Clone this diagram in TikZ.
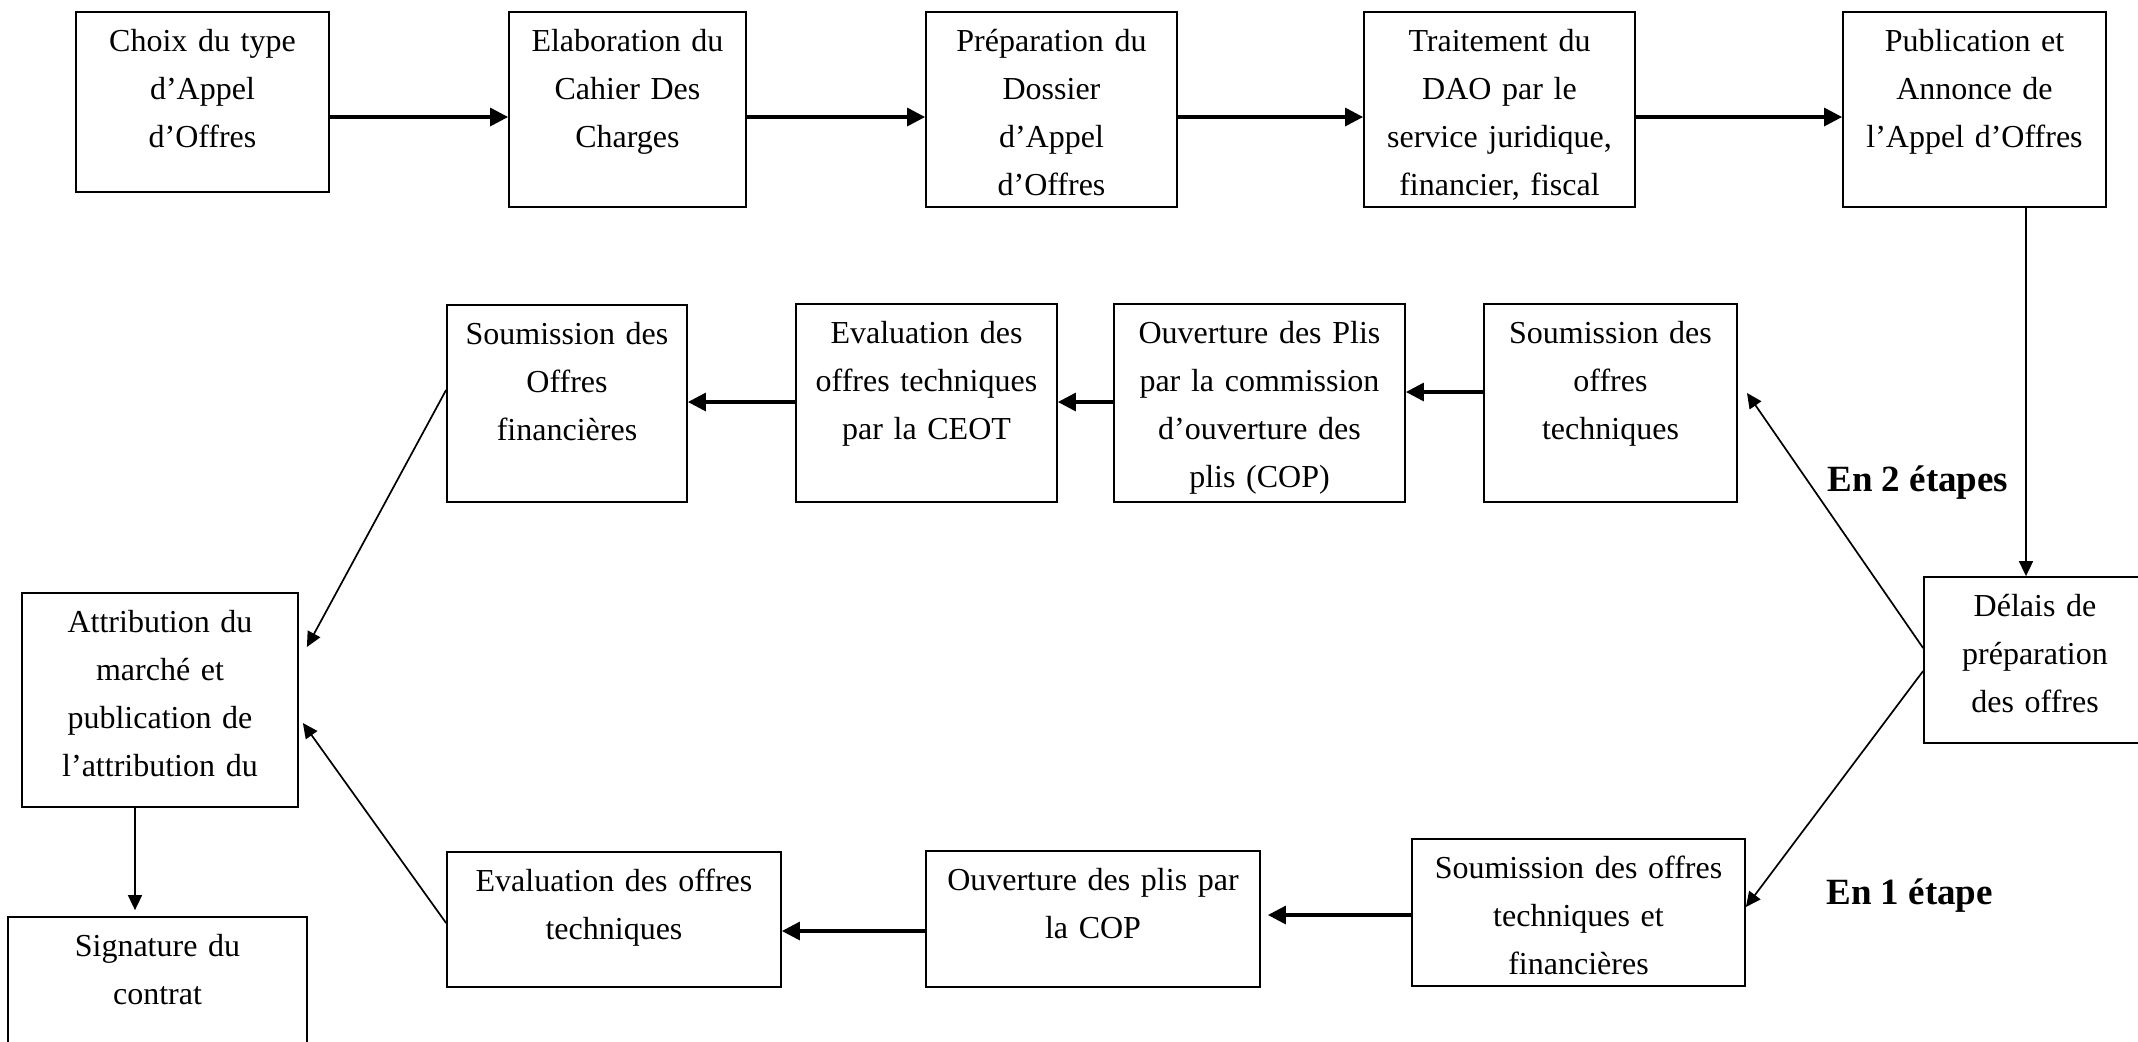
\documentclass[tikz,border=0pt]{standalone}
\usepackage{fontspec}
\setmainfont{Liberation Serif}
\usetikzlibrary{arrows.meta}

\tikzset{
  box/.style={draw, line width=0.9pt, inner sep=0pt},
  txt/.style={anchor=base, align=center, inner sep=0pt,
              font=\fontsize{16pt}{24pt}\selectfont},
  flow/.style={line width=1.6pt, -{Triangle[length=9pt,width=9pt]}},
  link/.style={line width=0.85pt, -{Triangle[length=7.5pt,width=7pt]}},
  tag/.style={anchor=base west, inner sep=0pt,
              font=\fontsize{18.5pt}{22pt}\selectfont\bfseries},
}

% #1 name, #2 #3 centre, #4 width (pt), #5 height (pt), #6 text
\newcommand\stage[6]{%
  \node[box, minimum width=#4pt, minimum height=#5pt] (#1) at (#2,#3) {};
  \path (#1.north) ++(0,40) node[txt, text width=#4pt] (#1-t) {#6};
}

\begin{document}
\begin{tikzpicture}[x=0.5pt, y=-0.5pt]
\useasboundingbox (0,0) rectangle (2138,1041);
\clip (0,0) rectangle (2138,1041);
\fill[white] (0,0) rectangle (2138,1041);

% first row: preparation of the call for tenders
\stage{b1}{202.5}{102}{126.5}{90}{Choix du type\\d’Appel\\d’Offres}
\stage{b2}{627.5}{109.5}{118.5}{97.5}{Elaboration du\\Cahier Des\\Charges}
\stage{b3}{1051.5}{109.5}{125.5}{97.5}{Préparation du\\Dossier\\d’Appel\\d’Offres}
\stage{b4}{1499.5}{109.5}{135.5}{97.5}{Traitement du\\DAO par le\\service juridique,\\financier, fiscal}
\stage{b5}{1974.5}{109.5}{131.5}{97.5}{Publication et\\Annonce de\\l’Appel d’Offres}

% bidding period
\stage{delais}{2035}{660}{111}{83}{Délais de\\préparation\\des offres}

% two-step procedure
\stage{s2t}{1610.5}{403}{126.5}{99}{Soumission des\\offres\\techniques}
\stage{ouv}{1259.5}{403}{145.5}{99}{Ouverture des Plis\\par la commission\\d’ouverture des\\plis (COP)}
\stage{evc}{926.5}{403}{130.5}{99}{Evaluation des\\offres techniques\\par la CEOT}
\stage{s2f}{567}{403.5}{120}{98.5}{Soumission des\\Offres\\financières}

% one-step procedure
\stage{s1}{1578.5}{912.5}{166.5}{73.5}{Soumission des offres\\techniques et\\financières}
\stage{ouc}{1093}{919}{167}{68}{Ouverture des plis par\\la COP}
\stage{evt}{614}{919.5}{167}{67.5}{Evaluation des offres\\techniques}

% award and contract
\stage{attr}{160}{700}{138}{107}{Attribution du\\marché et\\publication de\\l’attribution du}
\stage{sig}{157.5}{988.5}{149.5}{71.5}{Signature du\\contrat}

% branch labels
\node[tag] (two) at (1827,491) {En 2 étapes};
\node[tag] (one) at (1826,904) {En 1 étape};

% helper levels for connectors
\coordinate (r1) at (0,117);
\coordinate (r2a) at (0,392);
\coordinate (r2b) at (0,402);
\coordinate (r3a) at (0,915);
\coordinate (r3b) at (0,931);
\coordinate (vx) at (2026,0);
\coordinate (ax) at (135,0);
\coordinate (d2) at (0,648);
\coordinate (d1) at (0,671);
\coordinate (tip2) at (1747,393);
\coordinate (tip1) at (0,907);
\coordinate (e1) at (0,923);
\coordinate (e2) at (0,723);
\coordinate (f1) at (0,390);
\coordinate (f2) at (0,647);

% first row
\draw[flow] (b1.east |- r1) -- (b2.west |- r1);
\draw[flow] (b2.east |- r1) -- (b3.west |- r1);
\draw[flow] (b3.east |- r1) -- (b4.west |- r1);
\draw[flow] (b4.east |- r1) -- (b5.west |- r1);
\draw[link] (b5.south -| vx) -- (delais.north -| vx);

% branches from the bidding period
\draw[link] (delais.west |- d2) -- (tip2);
\draw[link] (delais.west |- d1) -- (s1.east |- tip1);

% two-step row
\draw[flow] (s2t.west |- r2a) -- (ouv.east |- r2a);
\draw[flow] (ouv.west |- r2b) -- (evc.east |- r2b);
\draw[flow] (evc.west |- r2b) -- (s2f.east |- r2b);

% one-step row
\draw[flow, shorten >=3.5pt] (s1.west |- r3a) -- (ouc.east |- r3a);
\draw[flow] (ouc.west |- r3b) -- (evt.east |- r3b);

% towards the award
\draw[link] (s2f.west |- f1) -- ([xshift=4pt]attr.east |- f2);
\draw[link] (evt.west |- e1) -- ([xshift=2pt]attr.east |- e2);
\draw[link, shorten >=3pt] (attr.south -| ax) -- (sig.north -| ax);
\end{tikzpicture}
\end{document}
